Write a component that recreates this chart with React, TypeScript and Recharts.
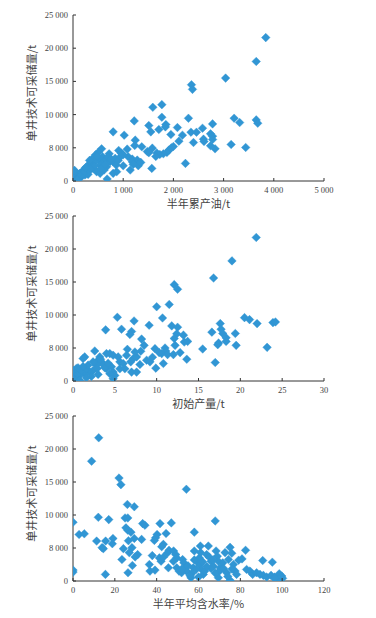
import React from 'react';
import { ScatterChart, Scatter, XAxis, YAxis } from 'recharts';

// ---- tick labels ----
const yTicks = [0, 5000, 10000, 15000, 20000, 25000];
const yTickLabels = ['0', '8 000', '10 000', '15 000', '20 000', '25 000'];
const oilTicks = [0, 1000, 2000, 3000, 4000, 5000];
const oilTickLabels = ['0', '1 000', '2 000', '3 000', '4 000', '5 000'];
const initTicks = [0, 5, 10, 15, 20, 25, 30];
const waterTicks = [0, 20, 40, 60, 80, 100, 120];

// ---- axis titles ----
const yTitle = '单井技术可采储量/t';
const oilTitle = '半年累产油/t';
const initTitle = '初始产量/t';
const waterTitle = '半年平均含水率/%';

// ---- panel 1: half-year cumulative oil (t) vs reserves (t) ----
const oilPoints: [number, number][] = [
  [3840, 21600], [3650, 18000], [3040, 15500], [2360, 14500], [2380, 13800], [1590, 11100], [1770, 11500],
  [1770, 9600], [2300, 9450], [1220, 9050], [3210, 9450], [3320, 8800], [3650, 9200], [3680, 8700],
  [1510, 8350], [1850, 8500], [1840, 8150], [1710, 7750], [2080, 8050], [2580, 7950], [2780, 8600],
  [800, 7400], [1020, 6900], [1550, 7400], [1950, 7000], [2180, 6900], [2350, 7350], [2460, 7350],
  [2740, 7100], [2780, 6750], [2780, 6250], [2600, 6300], [2610, 5950], [2110, 6000], [2400, 5800],
  [1240, 6150], [1230, 5350], [1370, 5150], [2740, 5300], [2830, 4850], [3150, 5500], [3440, 5050],
  [1580, 4950], [1480, 4450], [1510, 4250], [2000, 5200], [1960, 5000], [1910, 4650], [1870, 4300],
  [1800, 4100], [1730, 4000], [1670, 4200], [1650, 3700], [2240, 2650], [1570, 1900], [1140, 1650],
  [1100, 3650], [1180, 3300], [1080, 4800], [1280, 3150], [1270, 2650], [1300, 2300], [910, 4600],
  [960, 4200], [1000, 3950], [840, 3400], [800, 2900], [860, 2400], [800, 1150], [870, 1400],
  [720, 4100], [570, 4850], [510, 4350], [450, 3950], [390, 3400], [510, 3250], [600, 2800],
  [670, 2150], [620, 1650], [680, 300], [340, 2650], [270, 2150], [210, 1650], [140, 1150], [70, 650],
  [40, 1400], [30, 400], [20, 50], [400, 1900], [470, 1400], [540, 1150], [300, 1400], [240, 900],
  [170, 650], [110, 400], [540, 2400], [440, 2900], [370, 2400], [590, 3650], [660, 3250], [740, 2900],
  [480, 3700], [420, 2200], [350, 1800], [300, 1000], [200, 1200], [150, 800], [100, 1000], [60, 300],
  [10, 1100], [30, 1600], [80, 200], [250, 2000], [330, 3100], [560, 1900], [640, 2500], [700, 3600],
  [760, 3300], [900, 3100], [950, 3700], [1000, 2300], [1180, 2900], [1350, 2800], [1200, 2500],
];

// ---- panel 2: initial production (t) vs reserves (t) ----
const initPoints: [number, number][] = [
  [21.9, 21750], [19.0, 18200], [16.8, 15600], [12.1, 14600], [12.5, 13900], [10.0, 11250], [11.5, 11600],
  [5.3, 9650], [10.7, 9550], [7.3, 9100], [9.1, 8450], [3.9, 7750], [5.8, 7850], [7.0, 7500], [6.8, 7050],
  [8.2, 6350], [8.5, 5400], [6.5, 4800], [8.1, 4500], [9.8, 4900], [11.8, 8350], [12.5, 8150], [12.4, 7150],
  [12.1, 6450], [13.2, 6950], [13.3, 5900], [13.7, 6000], [12.2, 5400], [11.0, 5000], [11.1, 4550],
  [10.6, 4150], [11.3, 4000], [12.0, 4000], [12.8, 4300], [13.6, 3300], [10.8, 2650], [9.9, 1950],
  [15.5, 4850], [16.6, 7400], [17.6, 8700], [17.7, 7850], [17.9, 7200], [17.4, 5750], [17.3, 5500],
  [18.3, 6550], [18.3, 6000], [19.4, 7200], [19.5, 5400], [17.0, 2800], [20.5, 9600], [21.1, 9300],
  [22.0, 8700], [23.9, 8850], [24.2, 8950], [23.2, 5100],
  [2.6, 4550], [1.4, 3650], [1.2, 3400], [3.2, 3650], [3.0, 3150], [4.0, 4150], [4.4, 4150], [4.8, 3900],
  [2.8, 2400], [3.4, 2900], [2.4, 1600], [2.0, 1350], [1.4, 1100], [0.8, 850], [0.4, 600], [0.2, 350],
  [0.1, 1600], [0.2, 1350], [0.6, 1100], [1.0, 1600], [1.6, 1850], [1.8, 2400], [2.4, 2900], [3.6, 2500],
  [4.0, 1850], [4.6, 2150], [4.8, 1350], [5.0, 850], [4.8, 350], [0.8, 100], [4.4, 1100], [5.4, 3650],
  [5.6, 2900], [6.0, 2650], [6.2, 1850], [7.0, 1350], [7.6, 1350], [7.2, 3400], [7.6, 3650], [8.8, 3150],
  [9.2, 2900], [5.6, 1850], [6.9, 2900], [3.0, 1000], [2.2, 700], [1.6, 500], [0.4, 1900], [0.6, 2000],
  [1.2, 2200], [2.9, 1900], [3.3, 3300], [3.8, 2000], [4.2, 2700], [8.0, 2500], [9.5, 3600], [10.3, 4300],
  [6.4, 3900], [7.4, 4400],
];

// ---- panel 3: half-year average water cut (%) vs reserves (t) ----
const waterPoints: [number, number][] = [
  [12.3, 21700], [8.9, 18150], [22.0, 15600], [22.9, 14600], [54.2, 13900], [26.0, 11600], [29.3, 11250],
  [12.1, 9650], [17.1, 9300], [24.9, 9550], [26.2, 9550], [0, 8900], [33.3, 8700], [34.4, 8450],
  [47.0, 8800], [41.6, 8700], [68.0, 9100], [25.3, 8050], [26.2, 7700], [27.7, 7400], [2.9, 7050],
  [5.4, 7150], [11.3, 6050], [15.6, 6050], [19.1, 6450], [18.8, 5650], [26.5, 6100], [29.3, 6450],
  [32.8, 6300], [40.2, 7050], [39.5, 6550], [38.9, 6150], [44.5, 7200], [58.0, 7400], [43.2, 5550],
  [42.4, 5200], [13.9, 5050], [14.5, 4900], [24.1, 4900], [28.2, 5050], [26.9, 4300], [30.9, 4000],
  [29.7, 3650], [23.4, 3250], [28.4, 2350], [26.3, 1250], [15.5, 1000], [0, 1650], [0, 1350],
  [37.9, 3850], [36.5, 2500], [36.8, 1500], [39.2, 1650], [41.3, 3500], [42.1, 3000], [43.2, 3600],
  [45.6, 2000], [45.9, 4650], [48.1, 4550], [49.1, 4000], [49.6, 3500], [49.6, 2000], [50.7, 1500],
  [52.4, 3250], [53.0, 2750], [53.5, 2000], [54.3, 1500], [51.9, 1250], [56.4, 500], [57.5, 2000],
  [58.0, 4550], [59.1, 3000], [60.4, 3500], [60.9, 5300], [60.7, 2500], [61.5, 1750], [62.3, 1000],
  [64.7, 5300], [63.9, 4000], [65.2, 3600], [66.0, 3000], [67.1, 2250], [68.4, 4550], [69.0, 3750],
  [69.5, 3000], [70.3, 2000], [69.5, 500], [71.6, 2750], [72.7, 4300], [74.3, 3250], [75.1, 5100],
  [75.9, 4200], [76.7, 2500], [77.5, 1500], [78.2, 1000], [75.1, 100], [73.5, 1250], [79.2, 3150],
  [80.8, 3350], [82.5, 4650], [83.0, 1750], [84.6, 1500], [85.9, 1000], [87.8, 1250], [89.4, 1000],
  [91.0, 850], [95.3, 2850], [90.7, 3100], [92.6, 600], [94.7, 850], [96.3, 600], [97.7, 500],
  [98.6, 1100], [99.8, 750], [100.2, 400], [98.5, 250], [96.3, 400],
  [55, 2300], [57, 1200], [59, 1800], [62, 2900], [63, 1500], [66, 1900], [67, 3200], [70, 1500],
  [72, 1900], [74, 700], [76, 1800], [64, 2200], [52, 1800], [48, 3000], [58, 3200], [61, 4300],
  [45, 4200], [56, 800], [60, 600], [68, 1200],
];

const MARK = '#3196d4';
const AXIS = '#333';
const TICK_TEXT = '#444';
const SERIF = '"Liberation Serif", "Times New Roman", serif';
const CJK = '"Noto Sans CJK SC", sans-serif';

const Diamond = (props: any) => {
  const { cx, cy } = props;
  if (cx == null || cy == null) return null;
  const r = 4.3;
  return (
    <polygon
      points={`${cx},${cy - r} ${cx + r},${cy} ${cx},${cy + r} ${cx - r},${cy}`}
      fill={MARK}
      stroke={MARK}
      strokeWidth={0.4}
    />
  );
};

const makeYTick = (labels: string[], values: number[]) => (props: any) => {
  const { x, y, payload } = props;
  const i = values.indexOf(payload.value);
  const text = i >= 0 ? labels[i] : String(payload.value);
  return (
    <g>
      <line x1={x + 5} x2={x + 8} y1={y} y2={y} stroke={AXIS} strokeWidth={1} />
      <text x={x} y={y} dy="0.35em" textAnchor="end" fontSize={8.5} fontFamily={SERIF} fill={TICK_TEXT}>
        {text}
      </text>
    </g>
  );
};

const makeXTick = (labels: string[], values: number[]) => (props: any) => {
  const { x, y, payload } = props;
  const i = values.indexOf(payload.value);
  const text = i >= 0 ? labels[i] : String(payload.value);
  return (
    <g>
      <line x1={x} x2={x} y1={y - 6} y2={y - 9} stroke={AXIS} strokeWidth={1} />
      <text x={x} y={y} dy="0.71em" textAnchor="middle" fontSize={8.5} fontFamily={SERIF} fill={TICK_TEXT}>
        {text}
      </text>
    </g>
  );
};

const YTick = makeYTick(yTickLabels, yTicks);

type PanelProps = {
  top: number;
  marginTop: number;
  points: [number, number][];
  xTicks: number[];
  xLabels: string[];
  xTitle: string;
};

const Panel = ({ top, marginTop, points, xTicks, xLabels, xTitle }: PanelProps) => {
  const data = points.map(([x, y]) => ({ x, y }));
  const XTick = makeXTick(xLabels, xTicks);
  return (
    <div style={{ position: 'absolute', left: 0, top, width: 376, height: 210 }}>
      <ScatterChart width={376} height={210} margin={{ top: marginTop, right: 52, left: 0, bottom: 0 }}>
        <XAxis
          type="number"
          dataKey="x"
          domain={[xTicks[0], xTicks[xTicks.length - 1]]}
          ticks={xTicks}
          allowDataOverflow
          height={29}
          axisLine={{ stroke: AXIS, strokeWidth: 1 }}
          tickLine={false}
          tickSize={0}
          tickMargin={6}
          tick={XTick}
          interval={0}
          label={{
            value: xTitle,
            position: 'insideBottom',
            offset: 2,
            fontSize: 11,
            fontFamily: CJK,
            fill: TICK_TEXT,
          }}
        />
        <YAxis
          type="number"
          dataKey="y"
          domain={[0, 25000]}
          ticks={yTicks}
          allowDataOverflow
          width={73}
          axisLine={{ stroke: AXIS, strokeWidth: 1 }}
          tickLine={false}
          tickSize={0}
          tickMargin={5}
          tick={YTick}
          interval={0}
          label={{
            value: yTitle,
            angle: -90,
            position: 'insideLeft',
            offset: 32,
            dy: -5,
            style: { textAnchor: 'middle' },
            fontSize: 11,
            fontFamily: CJK,
            fill: TICK_TEXT,
          }}
        />
        <Scatter data={data} shape={Diamond} isAnimationActive={false} />
      </ScatterChart>
    </div>
  );
};

export default function App() {
  return (
    <div style={{ position: 'absolute', left: 0, top: 0, width: 376, height: 618, background: '#fff' }}>
      <Panel top={0} marginTop={15} points={oilPoints} xTicks={oilTicks} xLabels={oilTickLabels} xTitle={oilTitle} />
      <Panel
        top={200}
        marginTop={16}
        points={initPoints}
        xTicks={initTicks}
        xLabels={initTicks.map(String)}
        xTitle={initTitle}
      />
      <Panel
        top={400}
        marginTop={16}
        points={waterPoints}
        xTicks={waterTicks}
        xLabels={waterTicks.map(String)}
        xTitle={waterTitle}
      />
    </div>
  );
}
